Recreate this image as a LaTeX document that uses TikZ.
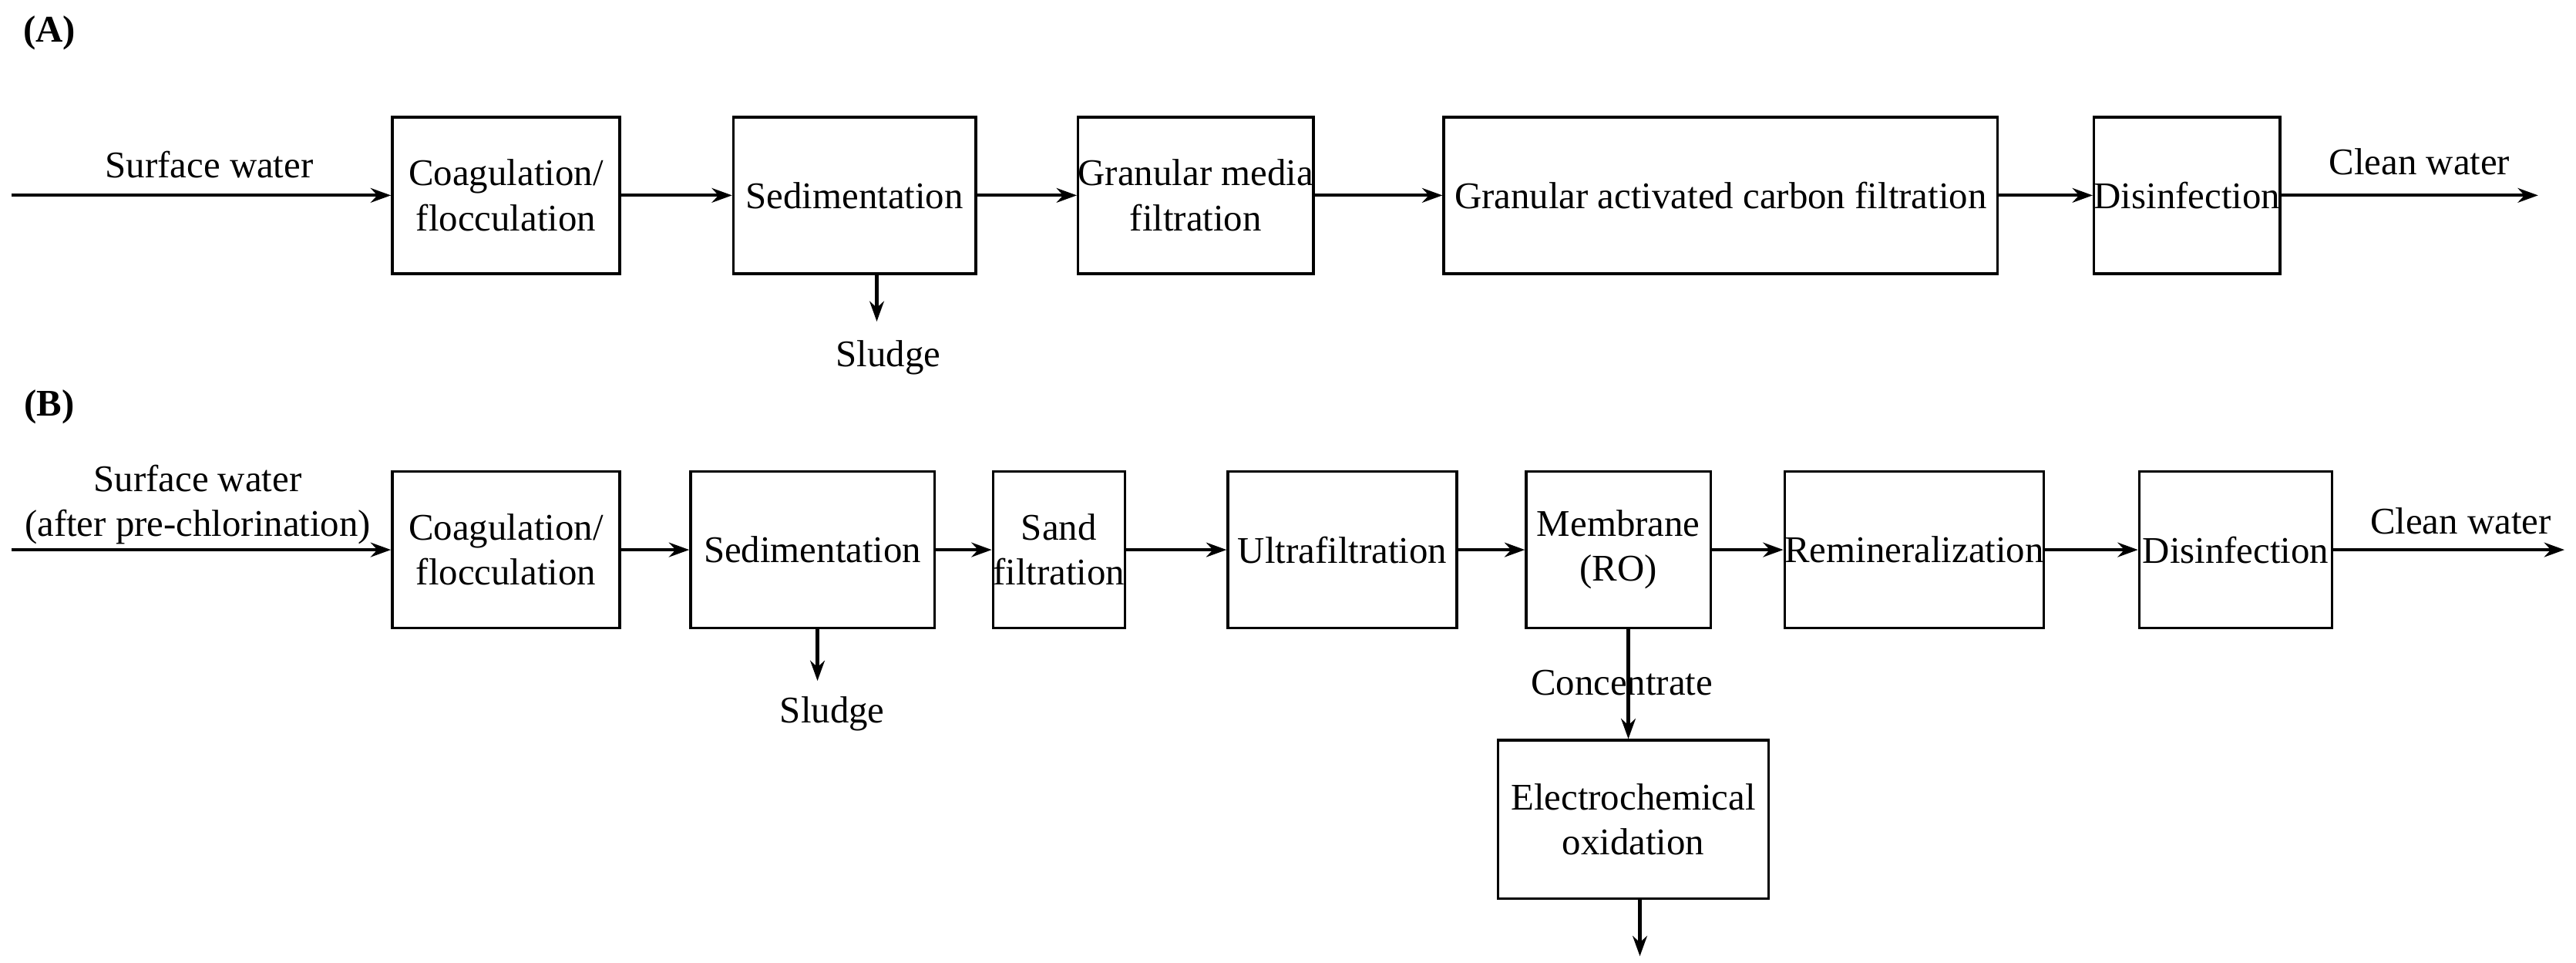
\documentclass[tikz,border=0pt]{standalone}
\usepackage{fontspec}
\setmainfont{Liberation Serif}
\usetikzlibrary{arrows.meta}
\begin{document}
\begin{tikzpicture}[
  every node/.style={font=\fontsize{13}{15.5}\selectfont, align=center},
  box/.style={draw, line width=0.9pt, minimum height=1.9cm, inner sep=0pt},
  flow/.style={line width=1.1pt, -{Stealth[length=7pt,width=5pt]}}
]
\useasboundingbox (0,0) rectangle (31.26,11.68);
% (A)
\node[font=\fontsize{13}{15.5}\selectfont\bfseries] (la) at (0.6,11.28) {(A)};
\node[box, minimum width=2.76cm] (a1) at (6.14,9.31) {Coagulation/\\flocculation};
\node[box, minimum width=2.94cm] (a2) at (10.37,9.31) {Sedimentation};
\node[box, minimum width=2.66cm] (a3) at (14.51,9.31) {Granular media\\filtration};
\node[box, minimum width=6.72cm] (a4) at (20.88,9.31) {Granular activated carbon filtration};
\node[box, minimum width=1.84cm] (a5) at (26.54,9.31) {Disinfection};
\coordinate (ain) at (0.14,9.31);
\coordinate (aout) at (30.8,9.31);
\node (asw) at (2.54,9.68) {Surface water};
\node (acw) at (29.36,9.72) {Clean water};
\draw[flow] (ain) -- (a1);
\draw[flow] (a1) -- (a2);
\draw[flow] (a2) -- (a3);
\draw[flow] (a3) -- (a4);
\draw[flow] (a4) -- (a5);
\draw[flow] (a5) -- (aout);
\coordinate (asl) at (10.64,7.78);
\draw[flow] (a2.south -| asl) -- (asl);
\node (aslt) at (10.78,7.34) {Sludge};
% (B)
\node[font=\fontsize{13}{15.5}\selectfont\bfseries] (lb) at (0.6,6.74) {(B)};
\node[box, minimum width=2.76cm] (b1) at (6.14,5.01) {Coagulation/\\flocculation};
\node[box, minimum width=2.96cm] (b2) at (9.86,5.01) {Sedimentation};
\node[box, minimum width=1.38cm] (b3) at (12.85,5.01) {Sand\\filtration};
\node[box, minimum width=2.78cm] (b4) at (16.29,5.01) {Ultrafiltration};
\node[box, minimum width=2.24cm] (b5) at (19.64,5.01) {Membrane\\(RO)};
\node[box, minimum width=3.14cm] (b6) at (23.23,5.01) {Remineralization};
\node[box, minimum width=2.34cm] (b7) at (27.13,5.01) {Disinfection};
\node[box, minimum width=3.28cm, minimum height=1.92cm] (b8) at (19.82,1.74) {Electrochemical\\oxidation};
\coordinate (bin) at (0.14,5.01);
\coordinate (bout) at (31.12,5.01);
\node (bsw) at (2.4,5.56) {Surface water\\(after pre-chlorination)};
\node (bcw) at (29.86,5.36) {Clean water};
\draw[flow] (bin) -- (b1);
\draw[flow] (b1) -- (b2);
\draw[flow] (b2) -- (b3);
\draw[flow] (b3) -- (b4);
\draw[flow] (b4) -- (b5);
\draw[flow] (b5) -- (b6);
\draw[flow] (b6) -- (b7);
\draw[flow] (b7) -- (bout);
\coordinate (bsl) at (9.92,3.42);
\draw[flow] (b2.south -| bsl) -- (bsl);
\node (bslt) at (10.1,3.02) {Sludge};
\coordinate (bx) at (19.76,0);
\draw[flow] (b5.south -| bx) -- (b8.north -| bx);
\node (bct) at (19.68,3.4) {Concentrate};
\coordinate (bend) at (19.9,0.08);
\draw[flow] (b8.south -| bend) -- (bend);
\end{tikzpicture}
\end{document}
